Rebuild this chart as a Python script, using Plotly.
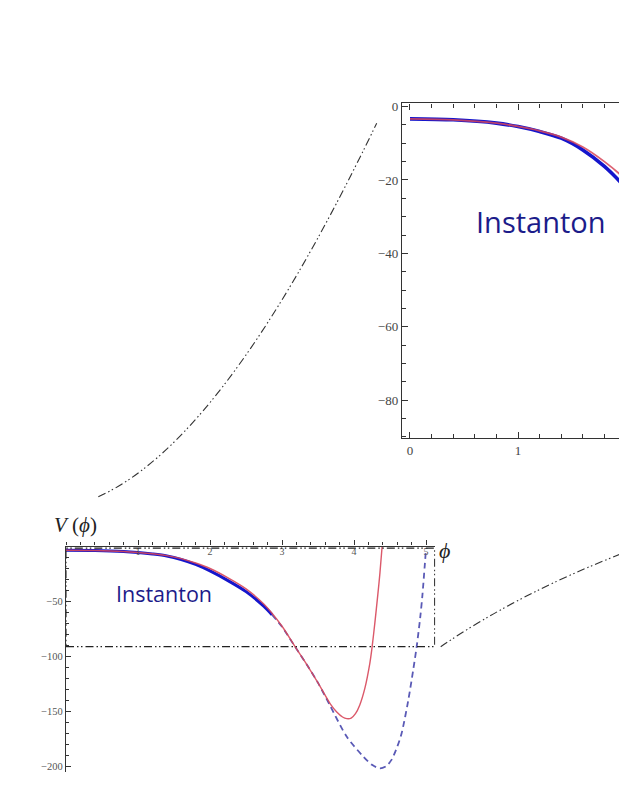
import plotly.graph_objects as go

# page is 627x811; body margin puts the figure at (8, 8)
OFF = 8
W, H = 627 - OFF, 811 - 2 * OFF

# ── data ─────────────────────────────────────────────────────────────────────
# red: potential with the steep wall near phi ~ 4.4
phi_red = [0.0, 0.4, 0.8, 1.0, 1.2, 1.4, 1.6, 1.8, 2.0, 2.25, 2.5, 2.75, 3.0,
           3.18, 3.35, 3.5, 3.67, 3.76, 3.84, 3.9, 3.96, 4.02, 4.08, 4.15,
           4.22, 4.25, 4.29, 4.33, 4.36, 4.39]
v_red = [-3.35, -3.6, -4.5, -5.4, -6.6, -8.3, -11.0, -15.0, -20.0, -28.5,
         -38.5, -52.5, -72.5, -91.0, -108.0, -124.0, -143.0, -150.5, -155.0,
         -156.5, -156.0, -152.0, -144.0, -129.0, -106.0, -92.0, -69.0, -44.0,
         -24.0, 0.0]

# blue: instanton potential, solid up to INSTANTON_END then dashed
phi_blue = [0.0, 0.4, 0.8, 1.0, 1.2, 1.4, 1.6, 1.8, 2.0, 2.25, 2.5, 2.75,
            2.86, 3.0, 3.18, 3.35, 3.5, 3.67, 3.9, 4.13, 4.25, 4.36, 4.45,
            4.52, 4.6, 4.66, 4.75, 4.82, 4.87, 4.92, 4.95, 4.995]
v_blue = [-3.35, -3.6, -4.5, -5.45, -6.8, -8.6, -11.8, -16.3, -22.2, -31.0,
          -41.0, -54.5, -62.0, -73.0, -91.0, -108.0, -124.0, -145.0, -173.0,
          -191.0, -198.5, -201.7, -199.5, -194.0, -182.0, -170.0, -141.0,
          -113.0, -91.0, -64.0, -44.0, -6.0]
INSTANTON_END = 2.86

main_xticks = [1, 2, 3, 4, 5]
main_yticks = [-50, -100, -150, -200]
inset_xticks = [0, 1, 2]
inset_yticks = [0, -20, -40, -60, -80]

# zoomed window (main-plot data coords)
ZOOM_X = [0.0, 5.12]
ZOOM_Y = [-91.0, -1.5]

# connector curves as Bezier control points, in page pixels
conn_left = [(98.3, 496.7), (215, 445), (320, 240), (376.7, 123.3)]
conn_right = [(440.7, 646.7), (519.7, 592.8), (626.7, 551.7)]

RED = "#d8475a"
BLUE = "#1616cc"
BLUE_DASH = "#5a5ab6"
NAVY = "#1c1c8a"
SERIF = "Liberation Serif, DejaVu Serif, serif"


def px(x):
    return (x - OFF) / W


def py(y):
    return 1 - (y - OFF) / H


def bezier_path(points):
    """Quadratic (3 points) or cubic (4 points) Bezier in paper units."""
    p = [f"{px(x):.5f},{py(y):.5f}" for x, y in points]
    cmd = "Q" if len(p) == 3 else "C"
    return f"M {p[0]} {cmd} " + " ".join(p[1:])


solid_idx = [i for i, p in enumerate(phi_blue) if p <= INSTANTON_END]
dash_idx = [i for i, p in enumerate(phi_blue) if p >= INSTANTON_END]

fig = go.Figure()

# ── main plot ────────────────────────────────────────────────────────────────
fig.add_trace(go.Scatter(
    x=[phi_blue[i] for i in dash_idx], y=[v_blue[i] for i in dash_idx],
    mode="lines", line=dict(color=BLUE_DASH, width=1.8, dash="6px,4px",
                            shape="spline", smoothing=0.8),
    xaxis="x", yaxis="y", showlegend=False,
))
fig.add_trace(go.Scatter(
    x=[phi_blue[i] for i in solid_idx], y=[v_blue[i] for i in solid_idx],
    mode="lines", line=dict(color=BLUE, width=3, shape="spline", smoothing=0.8),
    xaxis="x", yaxis="y", showlegend=False,
))
fig.add_trace(go.Scatter(
    x=phi_red, y=v_red, mode="lines",
    line=dict(color=RED, width=1.4, shape="spline", smoothing=0.8),
    opacity=0.9, xaxis="x", yaxis="y", showlegend=False,
))

# ── inset ────────────────────────────────────────────────────────────────────
fig.add_trace(go.Scatter(
    x=phi_blue, y=v_blue, mode="lines",
    line=dict(color=BLUE, width=3.6, shape="spline", smoothing=0.8),
    xaxis="x2", yaxis="y2", showlegend=False,
))
fig.add_trace(go.Scatter(
    x=phi_red, y=v_red, mode="lines",
    line=dict(color=RED, width=1.8, shape="spline", smoothing=0.8),
    opacity=0.85, xaxis="x2", yaxis="y2", showlegend=False,
))

# dash-dot zoom window + connectors
dashdot = "8px,3px,1.5px,2.5px,1.5px,3px"
fig.add_shape(type="rect", xref="x", yref="y",
              x0=ZOOM_X[0], x1=ZOOM_X[1], y0=ZOOM_Y[0], y1=ZOOM_Y[1],
              line=dict(color="#222222", width=1.1, dash=dashdot))
for pts in (conn_left, conn_right):
    fig.add_shape(type="path", xref="paper", yref="paper",
                  path=bezier_path(pts),
                  line=dict(color="#333333", width=1.1, dash=dashdot))

# labels
label_kw = dict(xref="paper", yref="paper", showarrow=False,
                xanchor="center", yanchor="middle")
fig.add_annotation(x=px(75), y=py(525), text="<i>V</i> (<i>ϕ</i>)",
                   font=dict(family=SERIF, size=21, color="#222222"), **label_kw)
fig.add_annotation(x=px(444), y=py(550), text="<i>ϕ</i>",
                   font=dict(family=SERIF, size=22, color="#222222"), **label_kw)
fig.add_annotation(x=px(164), y=py(593), text="Instanton",
                   font=dict(family="Open Sans, sans-serif", size=21.5, color=NAVY),
                   **label_kw)
fig.add_annotation(x=px(541), y=py(222), text="Instanton",
                   font=dict(family="Open Sans, sans-serif", size=29, color=NAVY),
                   **label_kw)

axis_col = "#333333"
fig.update_layout(
    width=W, height=H,
    margin=dict(l=0, r=0, t=0, b=0, autoexpand=False),
    paper_bgcolor="white", plot_bgcolor="rgba(0,0,0,0)",
    xaxis=dict(
        domain=[px(66), px(435.4)], range=[0, 5.13], anchor="y", side="top",
        showgrid=False, zeroline=False, showline=True, linecolor=axis_col,
        linewidth=1.2, ticks="outside", ticklen=5, tickcolor=axis_col,
        tickvals=main_xticks, ticklabelposition="inside",
        ticklabeloverflow="allow",
        tickfont=dict(family=SERIF, size=10, color="#555555"),
        minor=dict(dtick=0.2, ticks="outside", ticklen=3, tickcolor=axis_col),
    ),
    yaxis=dict(
        domain=[py(772), py(546.5)], range=[-205, 0], anchor="x",
        showgrid=False, zeroline=False, showline=True, linecolor=axis_col,
        linewidth=1.2, ticks="inside", ticklen=5, tickcolor=axis_col,
        tickvals=main_yticks,
        tickfont=dict(family=SERIF, size=10.5, color="#555555"),
        minor=dict(dtick=10, ticks="inside", ticklen=3, tickcolor=axis_col),
    ),
    xaxis2=dict(
        domain=[px(402), 1.0], range=[-0.074, 2.009], anchor="y2",
        showgrid=False, zeroline=False, showline=True, mirror="ticks",
        linecolor=axis_col, linewidth=1.4, ticks="inside", ticklen=6,
        tickcolor=axis_col, tickvals=inset_xticks, ticklabeloverflow="allow",
        tickfont=dict(family=SERIF, size=13, color="#444444"),
        minor=dict(dtick=0.2, ticks="inside", ticklen=4, tickcolor=axis_col),
    ),
    yaxis2=dict(
        domain=[py(438.3), py(103.3)], range=[-90.4, 0.9], anchor="x2",
        showgrid=False, zeroline=False, showline=True, linecolor=axis_col,
        linewidth=1.4, ticks="inside", ticklen=6, tickcolor=axis_col,
        tickvals=inset_yticks,
        tickfont=dict(family=SERIF, size=13, color="#444444"),
        minor=dict(dtick=5, ticks="inside", ticklen=4, tickcolor=axis_col),
    ),
)

fig.write_html("out.html")
